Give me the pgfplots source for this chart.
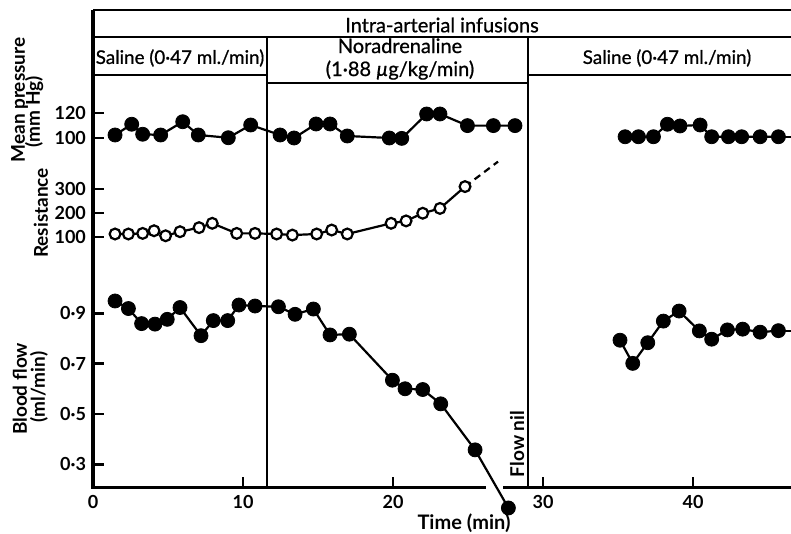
\documentclass[border=0pt]{standalone}
\usepackage{fontspec}
\setmainfont{Lato}
\newfontfamily\headfont[FakeBold=0.8]{Lato}
\usepackage{pgfplots}
\pgfplotsset{compat=1.18}

% all three quantities share one time axis and one plotting box
\pgfplotsset{
  panel/.style={
    scale only axis, width=349pt, height=239pt,
    at={(0,0)}, anchor=south west,
    xmin=0, xmax=46.53, clip=false,
    axis y line*=left,
    y axis line style={-, line width=1.6pt},
    tick align=inside, major tick length=5.5pt,
    tick style={line width=1.3pt, black},
    ticklabel style={font=\fontsize{9}{10}\selectfont\bfseries},
  },
  filled/.style={black, line width=1.1pt, mark=*, mark size=3.5pt,
    mark options={fill=black, line width=0.4pt}},
  open/.style={black, line width=1.1pt, mark=*, mark size=2.7pt,
    mark options={fill=white, line width=1.1pt}},
}

\begin{document}
\begin{tikzpicture}
\useasboundingbox (-46.5pt,-23pt) rectangle (349pt,244pt);

% ---- blood flow (ml/min) ----
\begin{axis}[panel,
  ymin=0.2054, ymax=2.106,
  axis x line*=bottom, x axis line style={draw=none},
  xtick={0,10,20,30,40}, xticklabels={0,10,20,30,40},
  ytick={0.3,0.5,0.7,0.9}, yticklabels={0·3,0·5,0·7,0·9},
]
\addplot[filled] coordinates {
  (1.47,0.949) (2.36,0.919) (3.24,0.859) (4.13,0.857) (4.95,0.876)
  (5.8,0.923) (7.2,0.811) (8.02,0.871) (8.98,0.871) (9.73,0.933)
  (10.8,0.929) (12.36,0.926) (13.47,0.896) (14.69,0.917) (15.8,0.814)
  (17.09,0.817) (19.96,0.634) (20.8,0.600) (21.98,0.597) (23.18,0.540)
  (25.47,0.357) (27.69,0.126)
};
\addplot[black, line width=1.1pt, no marks] coordinates {(45.69,0.831) (46.53,0.831)};
\addplot[filled] coordinates {
  (35.13,0.793) (35.98,0.701) (36.98,0.783) (38.02,0.869) (39.07,0.909)
  (40.42,0.830) (41.24,0.797) (42.29,0.834) (43.31,0.837) (44.47,0.825)
  (45.69,0.831)
};
\end{axis}

% ---- resistance ----
\begin{axis}[panel,
  ymin=-945.8, ymax=1045.8,
  axis x line=none,
  ytick={100,200,300}, yticklabels={100,200,300},
]
\addplot[black, line width=1.1pt, dashed, dash pattern=on 3.5pt off 2.5pt, no marks]
  coordinates {(24.8,310) (27.0,414)};
\addplot[open] coordinates {
  (1.47,112.5) (2.36,112.5) (3.31,115) (4.07,126) (4.84,105)
  (5.8,122) (7.07,139) (7.95,157) (9.58,115) (10.8,115)
  (12.24,112.5) (13.29,108) (14.91,112.5) (15.91,129) (16.95,112.5)
  (19.87,157) (20.87,167) (21.98,199) (23.13,219) (24.8,310)
};
\end{axis}

% ---- mean pressure (mm Hg) ----
\begin{axis}[panel,
  ymin=-180, ymax=202.4,
  axis x line=none,
  ytick={100,120}, yticklabels={100,120},
]
\addplot[filled] coordinates {
  (1.47,102.4) (2.58,111) (3.31,103) (4.51,102.4) (5.98,113)
  (7.02,102.4) (9.02,100.2) (10.51,110.4)
  (12.47,102.4) (13.4,100) (14.87,111.2) (15.8,111.2) (16.95,101.6)
  (19.75,100) (20.58,99.7) (22.24,119.2) (23.13,119.2) (24.96,109.9)
  (26.69,109.9) (28.13,109.9)
};
\addplot[black, line width=1.1pt, no marks] coordinates {(45.69,101) (46.53,101)};
\addplot[filled] coordinates {
  (35.47,101) (36.36,101) (37.36,101) (38.29,111) (39.13,109.6)
  (40.47,110.4) (41.24,101) (42.36,101) (43.24,101) (44.47,101)
  (45.69,101)
};
\end{axis}

% time axis, broken where the last flow reading falls through it
\draw[line width=1.5pt] (-0.8pt,0) -- (196.5pt,0);
\draw[line width=1.5pt] (205pt,0) -- (349pt,0);

% infusion periods
\begin{scope}[line width=1.2pt]
  \draw (0,239pt) -- (349pt,239pt);
  \draw (0,225.5pt) -- (349pt,225.5pt);
  \draw (0,206.5pt) -- (87pt,206.5pt);
  \draw (87pt,202.5pt) -- (217.5pt,202.5pt);
  \draw (217.5pt,206.5pt) -- (349pt,206.5pt);
  \draw (87pt,0) -- (87pt,225.5pt);
  \draw (217.5pt,0) -- (217.5pt,225.5pt);
\end{scope}

\begin{scope}[font=\headfont\fontsize{10}{11.5}\selectfont]
  \node at (174.5pt,231.5pt) {Intra-arterial infusions};
  \node[font=\headfont\fontsize{9.4}{11}\selectfont] at (43.5pt,215pt) {Saline (0·47 ml./min)};
  \node[align=center] at (153.5pt,214.5pt) {Noradrenaline\\(1·88 \textit{µ}g/kg/min)};
  \node[font=\headfont\fontsize{9.4}{11}\selectfont] at (287pt,215pt) {Saline (0·47 ml./min)};
\end{scope}

% axis titles, placed by their baselines
\begin{scope}[font=\fontsize{9.5}{11}\selectfont\bfseries, anchor=base]
  \node[rotate=90] at (-34pt,194pt) {Mean pressure};
  \node[rotate=90] at (-26.5pt,188pt) {(mm Hg)};
  \node[rotate=90] at (-22.5pt,137.5pt) {Resistance};
  \node[rotate=90] at (-33pt,49.5pt) {Blood flow};
  \node[rotate=90] at (-24pt,50.5pt) {(ml/min)};
  \node[rotate=90] at (215.5pt,22pt) {Flow nil};
\end{scope}
\node[font=\fontsize{10}{11.5}\selectfont\bfseries] at (185.5pt,-17.5pt) {Time (min)};
\end{tikzpicture}
\end{document}
